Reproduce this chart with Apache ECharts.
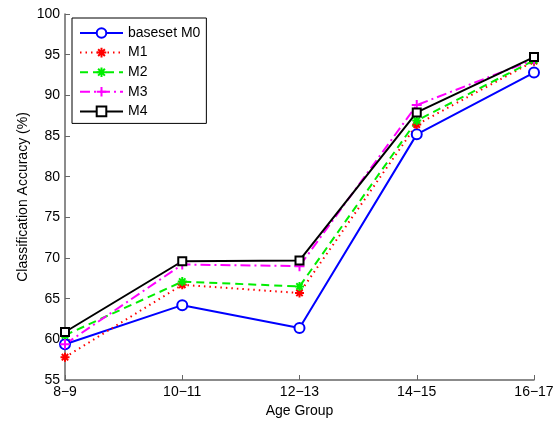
<!DOCTYPE html>
<html>
<head>
<meta charset="utf-8">
<script src="https://cdn.jsdelivr.net/npm/echarts@6/dist/echarts.min.js"></script>
<style>
html,body{margin:0;padding:0;background:#fff;}
#chart{width:559px;height:423px;}
</style>
</head>
<body>
<div id="chart"></div>
<script>
const categories = ['8\u22129', '10\u221211', '12\u221213', '14\u221215', '16\u221217'];
const seriesNames = ['baseset M0', 'M1', 'M2', 'M3', 'M4'];
const m0 = [59.4, 64.2, 61.4, 85.2, 92.8];
const m1 = [57.8, 66.7, 65.7, 86.4, 94.2];
const m2 = [60.5, 67.1, 66.5, 86.9, 94.3];
const m3 = [59.4, 69.2, 69.0, 88.8, 94.4];
const m4 = [60.9, 69.6, 69.7, 87.9, 94.7];
const yTicks = [55, 60, 65, 70, 75, 80, 85, 90, 95, 100];

const font = 'Liberation Sans, Arial, sans-serif';
const asterisk = 'path://M0,-5L0,5M-5,0L5,0M-3.54,-3.54L3.54,3.54M-3.54,3.54L3.54,-3.54';
const plus = 'path://M-5,0L5,0M0,-5L0,5';

function mk(name, data, color, type, symbol, size) {
  return {
    name: name, type: 'line', data: data,
    symbol: symbol, symbolSize: size, symbolKeepAspect: true,
    showAllSymbol: true,
    lineStyle: {color: color, width: 2, type: type},
    itemStyle: {color: color, borderColor: color, borderWidth: 2},
    emphasis: {disabled: true},
    animation: false
  };
}

const chart = echarts.init(document.getElementById('chart'), null, {renderer: 'canvas'});
chart.setOption({
  animation: false,
  backgroundColor: '#fff',
  textStyle: {fontFamily: font},
  grid: {left: 65, right: 25, top: 14, bottom: 40},
  legend: {
    orient: 'vertical', left: 72, top: 18,
    data: seriesNames,
    itemWidth: 43, itemHeight: 12, itemGap: 5.6, itemTextGap: 5,
    padding: [8, 6, 5, 7],
    borderColor: '#000', borderWidth: 1, backgroundColor: '#fff',
    textStyle: {fontFamily: font, fontSize: 14, color: '#000', lineHeight: 12},
    selectedMode: false
  },
  xAxis: {
    type: 'category', data: categories, boundaryGap: false,
    name: 'Age Group', nameLocation: 'middle', nameGap: 24, nameMoveOverlap: false,
    nameTextStyle: {fontFamily: font, fontSize: 14, color: '#000'},
    axisLine: {lineStyle: {color: '#666', width: 1.5}},
    axisTick: {inside: true, length: 5, alignWithLabel: true, lineStyle: {color: '#666', width: 1}},
    axisLabel: {fontFamily: font, fontSize: 14, color: '#000', margin: 5},
    splitLine: {show: false}
  },
  yAxis: {
    type: 'value', min: 55, max: 100, interval: 5,
    name: 'Classification Accuracy (%)', nameLocation: 'middle', nameGap: 35, nameMoveOverlap: false,
    nameTextStyle: {fontFamily: font, fontSize: 14, color: '#000'},
    axisLine: {show: true, lineStyle: {color: '#666', width: 1.5}},
    axisTick: {show: true, inside: true, length: 5, lineStyle: {color: '#666', width: 1}},
    axisLabel: {fontFamily: font, fontSize: 14, color: '#000', margin: 5,
      formatter: function (v) { return yTicks.indexOf(v) >= 0 ? String(v) : ''; }},
    splitLine: {show: false}
  },
  series: [
    mk(seriesNames[0], m0, '#0000ff', 'solid', 'emptyCircle', 10),
    mk(seriesNames[1], m1, '#ff0000', [1.5, 4], asterisk, 9),
    mk(seriesNames[2], m2, '#00ee00', [8, 5], asterisk, 9),
    mk(seriesNames[3], m3, '#ff00ff', [10, 4, 2, 4], plus, 10),
    mk(seriesNames[4], m4, '#000000', 'solid', 'emptyRect', 8)
  ]
});
</script>
</body>
</html>
